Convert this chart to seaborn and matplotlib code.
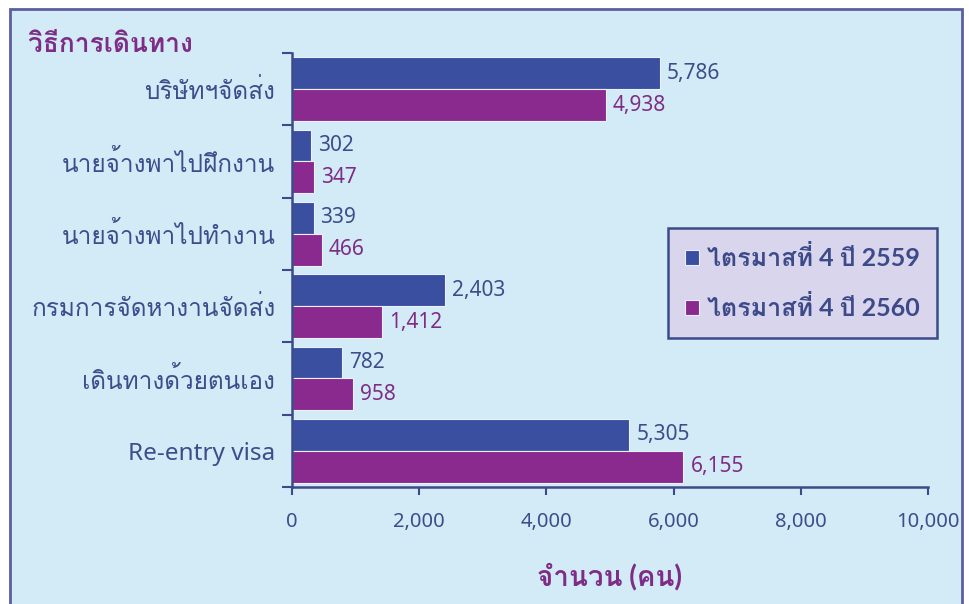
import matplotlib
matplotlib.use("Agg")
import matplotlib.pyplot as plt
from matplotlib import font_manager
from matplotlib.ft2font import FT2Font
from matplotlib.patches import Rectangle
import seaborn as sns
import pandas as pd

categories = ["บริษัทฯจัดส่ง", "นายจ้างพาไปฝึกงาน", "นายจ้างพาไปทำงาน",
              "กรมการจัดหางานจัดส่ง", "เดินทางด้วยตนเอง", "Re-entry visa"]
series_names = ["ไตรมาสที่ 4 ปี 2559", "ไตรมาสที่ 4 ปี 2560"]
values_2559 = [5786, 302, 339, 2403, 782, 5305]
values_2560 = [4938, 347, 466, 1412, 958, 6155]
xticks = [0, 2000, 4000, 6000, 8000, 10000]
title_text = "วิธีการเดินทาง"
xlabel_text = "จำนวน (คน)"

# find a font with Thai glyphs
thai_family = None
for fe in font_manager.fontManager.ttflist:
    try:
        cm = FT2Font(fe.fname).get_charmap()
        if 0x0E01 in cm and 0x0E32 in cm:
            thai_family = fe.name
            break
    except Exception:
        pass

sns.set_theme(style="white")
thai = [thai_family] if thai_family else []
fams = ["Noto Sans"] + thai + ["DejaVu Sans"]
bold_fams = ["Lato"] + thai + ["DejaVu Sans"]
plt.rcParams["font.family"] = fams

BLUE = "#3b4fa0"
PURPLE = "#8a2a8e"
NAVY = "#3d4a8a"
TXT = "#3f4c8c"
PTXT = "#7e2d86"
PANEL = "#d3ebf7"

df = pd.DataFrame({
    "cat": categories * 2,
    "val": values_2559 + values_2560,
    "series": [series_names[0]] * 6 + [series_names[1]] * 6,
})

fig = plt.figure(figsize=(9.7, 6.04), dpi=100)
fig.patch.set_facecolor("white")
fig.patches.append(Rectangle((10 / 970, -0.01), 952 / 970, 1 - 9 / 604 + 0.01,
                             transform=fig.transFigure, facecolor=PANEL,
                             edgecolor="#5a5f9e", linewidth=2, zorder=-10))

ax = fig.add_axes([292 / 970, 1 - 487 / 604, (928 - 292) / 970, (487 - 53) / 604])
ax.set_facecolor("none")
sns.barplot(data=df, x="val", y="cat", hue="series", orient="h",
            palette=[BLUE, PURPLE], width=0.88, saturation=1,
            edgecolor="#e8f2fa", linewidth=0.8, ax=ax, legend=True)

ax.set_xlim(0, 10000)
ax.set_ylim(5.5, -0.5)
ax.set_xticks(xticks)
ax.set_xticklabels([f"{t:,}" for t in xticks], color=TXT, fontsize=14.5)
ax.set_yticks([i - 0.5 for i in range(7)], minor=False)
ax.set_yticklabels([])
ax.set_yticks(range(6), minor=True)
ax.set_yticklabels(categories, minor=True, color=TXT, fontsize=17.5)
ax.tick_params(axis="y", which="minor", length=0, pad=12)
ax.tick_params(axis="y", which="major", length=7, width=1.5, color=NAVY, direction="out", left=True)
ax.tick_params(axis="x", length=6, width=1.5, color=NAVY, direction="out", bottom=True, pad=12)
for s in ["top", "right"]:
    ax.spines[s].set_visible(False)
for s in ["left", "bottom"]:
    ax.spines[s].set_color(NAVY)
    ax.spines[s].set_linewidth(1.8)
ax.set_ylabel("")
ax.set_xlabel(xlabel_text, color=PTXT, fontsize=20, fontweight="bold", labelpad=22,
              family=bold_fams)

for cont, col in zip(ax.containers, [TXT, PTXT]):
    ax.bar_label(cont, labels=[f"{v:,.0f}" for v in cont.datavalues],
                 padding=5, color=col, fontsize=15)

handles, labels = ax.get_legend_handles_labels()
leg = ax.legend(handles, labels, loc="upper left", bbox_to_anchor=((668 - 292) / 636, 1 - (228 - 53) / 434),
                frameon=True, fancybox=False, handlelength=0.55, handleheight=0.55,
                prop={"family": bold_fams, "weight": "bold", "size": 18},
                handletextpad=0.3, labelspacing=1.0, borderpad=0.7, borderaxespad=0)
leg.get_frame().set_facecolor("#d8d5ec")
leg.get_frame().set_edgecolor(NAVY)
leg.get_frame().set_linewidth(1.8)
leg.get_frame().set_alpha(1)
for t in leg.get_texts():
    t.set_color(NAVY)

fig.text(28 / 970, 1 - 52 / 604, title_text, color=PTXT, fontsize=19, fontweight="bold",
         family=bold_fams, ha="left", va="baseline")

fig.savefig("out.png", dpi=100, facecolor="white")
